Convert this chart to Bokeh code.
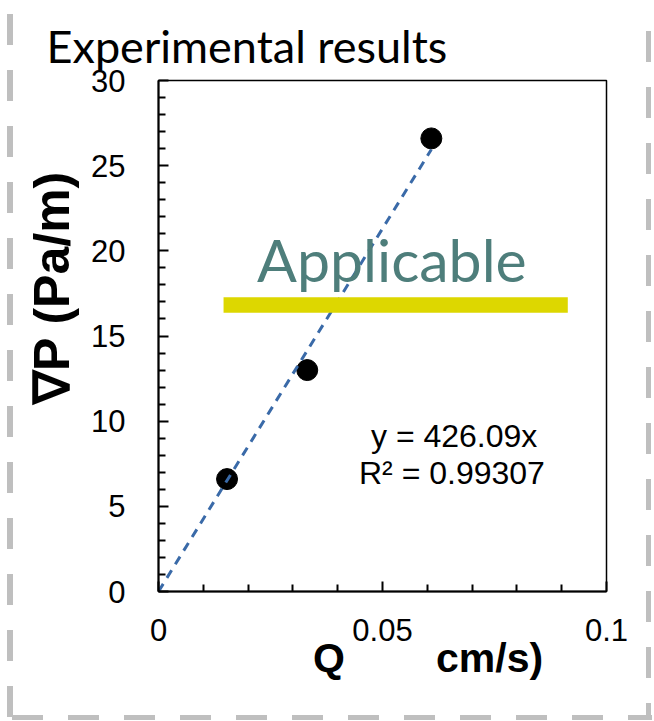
from bokeh.plotting import figure
from bokeh.models import Range1d, FixedTicker, Label, BoxAnnotation, ColumnDataSource, Styles
from bokeh.embed import file_html
from bokeh.resources import INLINE

# ---- data ----
flow_q = [0.0153, 0.0332, 0.0609]        # Q (cm/s)
grad_p = [6.6, 13.0, 26.6]               # ∇P (Pa/m)
fit_slope = 426.09
fit_r2 = 0.99307
x_major = [0, 0.05, 0.1]
x_minor = [0.01, 0.02, 0.03, 0.04, 0.06, 0.07, 0.08, 0.09]
y_major = [0, 5, 10, 15, 20, 25, 30]
y_minor = [v for v in range(0, 31) if v % 5 != 0]
band_x = [0.01452, 0.09136]
band_y = [16.37, 17.28]

ARIAL = "Liberation Sans"
CAL = "Lato"
NB = "\u00a0"

p = figure(width=654, height=721, output_backend="svg", toolbar_location=None,
           x_range=Range1d(0, 0.1), y_range=Range1d(0, 30),
           min_border_left=158, min_border_right=48, min_border_top=80, min_border_bottom=130)
p.grid.visible = False
p.outline_line_color = "black"
p.outline_line_width = 1.5
p.background_fill_color = "white"
p.border_fill_color = None

# dashed grey frame around the whole panel (page decoration)
g = "#BFBFBF"
p.styles = Styles(
    background_image=(
        f"repeating-linear-gradient(to bottom, {g} 0 31px, transparent 31px 56px),"
        f"repeating-linear-gradient(to bottom, {g} 0 31px, transparent 31px 56px),"
        f"repeating-linear-gradient(to right, {g} 0 31px, transparent 31px 56px)"
    ),
    background_position="7px 14px, 646px 31px, 12px 715px",
    background_size="6px 706px, 5px 689px, 640px 5px",
    background_repeat="no-repeat",
)

p.title.text = "Experimental results"
p.title.text_font = CAL
p.title.text_font_size = "45px"
p.title.text_font_style = "normal"
p.title.text_color = "black"
p.title.align = "left"
p.title.vertical_align = "top"
p.title.offset = -112
p.title.standoff = 11

for ax, maj, mnr in ((p.xaxis[0], x_major, x_minor), (p.yaxis[0], y_major, y_minor)):
    ax.ticker = FixedTicker(ticks=maj, minor_ticks=mnr)
    ax.axis_line_color = "black"
    ax.axis_line_width = 2
    ax.major_tick_in = 10
    ax.major_tick_out = 0
    ax.minor_tick_in = 7
    ax.minor_tick_out = 0
    ax.major_tick_line_width = 2
    ax.minor_tick_line_width = 2
    ax.major_label_text_font = ARIAL
    ax.major_label_text_font_size = "31px"
    ax.major_label_text_color = "black"

p.xaxis[0].major_label_standoff = 27
p.yaxis[0].major_label_standoff = 33
p.xaxis[0].major_label_overrides = {0: "0", 0.05: "0.05", 0.1: "0.1"}

p.yaxis[0].axis_label = NB * 7 + "∇P (Pa/m)"
p.yaxis[0].axis_label_text_font = ARIAL
p.yaxis[0].axis_label_text_font_size = "50px"
p.yaxis[0].axis_label_text_font_style = "bold"
p.yaxis[0].axis_label_text_color = "black"
p.yaxis[0].axis_label_standoff = 8

p.xaxis[0].axis_label = NB * 8 + "Q" + NB * 8 + "cm/s)"
p.xaxis[0].axis_label_text_font = ARIAL
p.xaxis[0].axis_label_text_font_size = "41px"
p.xaxis[0].axis_label_text_font_style = "bold"
p.xaxis[0].axis_label_text_color = "black"
p.xaxis[0].axis_label_standoff = -9

src = ColumnDataSource(dict(q=flow_q, dp=grad_p))
p.scatter("q", "dp", source=src, size=21, color="black")

trend_x = [0, max(flow_q)]
trend_y = [fit_slope * v for v in trend_x]
p.line(trend_x, trend_y, line_color="#3A6AA8", line_width=3, line_dash="9 7")

p.add_layout(BoxAnnotation(left=band_x[0], right=band_x[1], bottom=band_y[0], top=band_y[1],
                           fill_color="#DDD700", fill_alpha=1, line_color=None, level="overlay"))

p.add_layout(Label(x=0.0521, y=19.5, text="Applicable", text_font=CAL,
                   text_font_size="59px", text_color="#4E7E7B", text_align="center",
                   text_baseline="middle"))

p.add_layout(Label(x=0.0660, y=9.11, text=f"y = {fit_slope}x", text_font=ARIAL,
                   text_font_size="32px", text_color="black", text_align="center",
                   text_baseline="middle"))
p.add_layout(Label(x=0.0655, y=6.96, text=f"R² = {fit_r2}", text_font=ARIAL,
                   text_font_size="32px", text_color="black", text_align="center",
                   text_baseline="middle"))

open("out.html", "w").write(file_html(p, INLINE))
